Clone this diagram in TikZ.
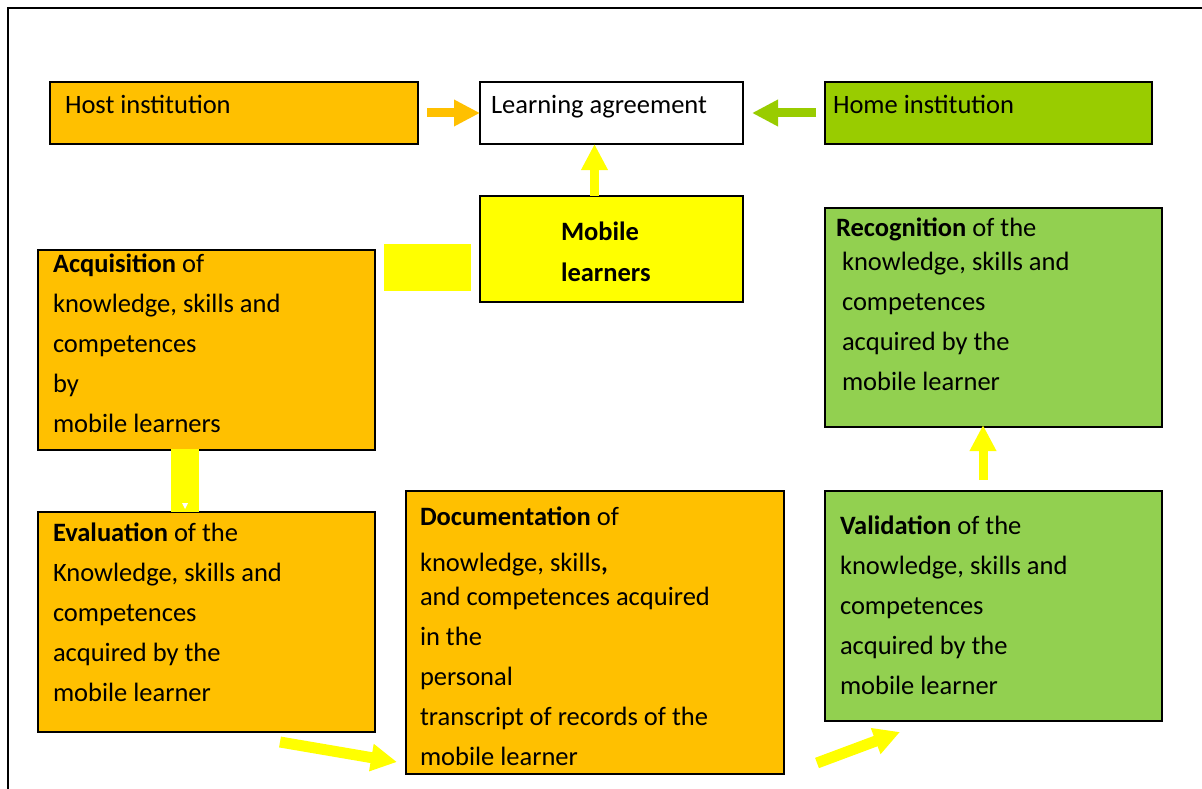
\documentclass[tikz,border=0pt]{standalone}
\usepackage{fontspec}
\setmainfont{Carlito}
\usetikzlibrary{arrows.meta}
\definecolor{orangeF}{HTML}{FFC000}
\definecolor{greenH}{HTML}{99CC00}
\definecolor{greenL}{HTML}{92D050}
\definecolor{yel}{HTML}{FFFF00}
\begin{document}
\begin{tikzpicture}[x=1pt,y=-1pt,
  box/.style={draw=black, line width=2pt, inner sep=0pt, outer sep=0pt},
  patch/.style={fill=yel, draw=none, inner sep=0pt, outer sep=0pt},
  txt/.style={anchor=base west, align=left, inner sep=0pt, outer sep=0pt, font=\fontsize{26.5}{40}\selectfont},
  blockarrow/.style={line width=9pt, -{Triangle[length=26pt,width=25pt]}},
  wideblock/.style={line width=11pt, -{Triangle[length=26pt,width=26pt]}}
]
\useasboundingbox (0,0) rectangle (1202,789);
\fill[white] (0,0) rectangle (1202,789);
% frame
\draw[line width=2.5pt] (8,800) -- (8,8) -- (1210,8);

% boxes
\node[box, fill=orangeF, minimum width=368pt, minimum height=62pt] (host) at (234,113) {};
\node[box, fill=white, minimum width=263pt, minimum height=62pt] (la) at (611.5,113) {};
\node[box, fill=greenH, minimum width=327pt, minimum height=62pt] (home) at (988.5,113) {};
\node[box, fill=yel, minimum width=263pt, minimum height=106pt] (mob) at (611.5,249) {};
\node[box, fill=orangeF, minimum width=337pt, minimum height=200pt] (acq) at (206.5,350) {};
\node[box, fill=orangeF, minimum width=337pt, minimum height=220pt] (eval) at (206.5,622) {};
\node[box, fill=orangeF, minimum width=378pt, minimum height=283pt] (doc) at (595,632.5) {};
\node[box, fill=greenL, minimum width=337pt, minimum height=230pt] (val) at (993.5,606) {};
\node[box, fill=greenL, minimum width=337pt, minimum height=219pt] (rec) at (993.5,317.5) {};

% yellow patches
\node[patch, minimum width=87pt, minimum height=47pt] (p1) at (427.5,267.5) {};
\node[patch, minimum width=28pt, minimum height=63pt] (p2) at (185,480.5) {};
\fill[white] (182,503) -- (188,503) -- (185,509) -- cycle;

% arrows
\draw[blockarrow, orangeF] ([xshift=9pt]host.east) -- (la.west);
\draw[blockarrow, greenH] ([xshift=-9pt]home.west) -- ([xshift=9pt]la.east);
\draw[blockarrow, yel] ([xshift=-17pt]mob.north) -- ([xshift=-17pt]la.south);
\draw[blockarrow, yel] ([xshift=-10.5pt,yshift=11pt]val.north) -- ([xshift=-10.5pt,yshift=2pt]rec.south);
\coordinate (ed1) at (280,742);
\coordinate (ed2) at (397,762);
\coordinate (dv1) at (817,763);
\coordinate (dv2) at (900,732);
\draw[wideblock, yel] (ed1) -- (ed2);
\draw[wideblock, yel] (dv1) -- (dv2);

% texts (multi-line nodes: base anchor is the last line's baseline)
\node[txt] (thost) at (65,114) {Host institution};
\node[txt] (tla) at (491,114) {Learning agreement};
\node[txt] (thome) at (833,114) {Home institution};
\node[txt, font=\fontsize{26.5}{41}\selectfont\bfseries] (tmob) at (561,281) {Mobile\\learners};
\node[txt] (tacq) at (53,432) {\textbf{Acquisition} of\\knowledge, skills and\\competences\\by\\mobile learners};
\node[txt] (teval) at (53,701) {\textbf{Evaluation} of the\\Knowledge, skills and\\competences\\acquired by the\\mobile learner};
\node[txt] (tdoc) at (420,765) {\textbf{Documentation} of\\[6pt]knowledge, skills\textbf{,}\\[-6pt]and competences acquired\\in the\\personal\\transcript of records of the\\mobile learner};
\node[txt] (tval) at (840,694) {\textbf{Validation} of the\\knowledge, skills and\\competences\\acquired by the\\mobile learner};
\node[txt] (trec) at (836,390) {\textbf{Recognition} of the\\[-6pt]\hspace*{6pt}knowledge, skills and\\\hspace*{6pt}competences\\\hspace*{6pt}acquired by the\\\hspace*{6pt}mobile learner};
\end{tikzpicture}
\end{document}
